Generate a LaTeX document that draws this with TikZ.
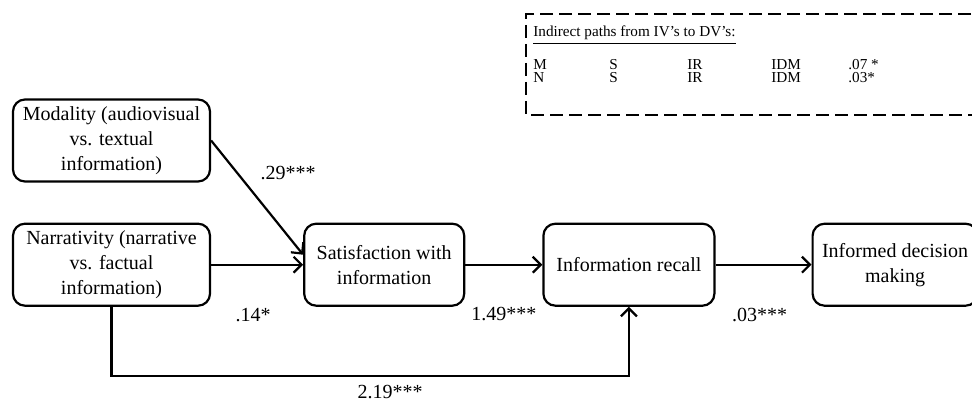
\documentclass[tikz,border=0pt]{standalone}
\usepackage{fontspec}
\setmainfont{Liberation Serif}
\usetikzlibrary{arrows.meta,positioning}

\begin{document}
\begin{tikzpicture}[
  x=0.5pt, y=-0.5pt,
  font=\fontsize{10}{12.5}\selectfont,
  factor/.style={
    draw,
    line width=1.1pt,
    rounded corners=6pt,
    minimum height=41pt,
    align=center,
    inner sep=2pt
  },
  arrow/.style={-{Straight Barb[length=4pt,width=8pt]},line width=1.1pt},
  coef/.style={inner sep=1pt},
  dashbox/.style={line width=1.1pt,dash pattern=on 6.5pt off 3pt},
  pathtext/.style={font=\fontsize{7.6}{9}\selectfont,anchor=base west,inner sep=0pt}
]
  \useasboundingbox (0,0) rectangle (972,406);

  \node[factor,minimum width=98.5pt] (modality) at (111.5,140.5)
    {Modality (audiovisual\\vs. textual\\information)};
  \node[factor,minimum width=98.5pt, below=20pt of modality] (narrativity)
    {Narrativity (narrative\\vs. factual\\information)};
  \node[factor,minimum width=80pt, right=46pt of narrativity] (satisfaction)
    {Satisfaction with\\information};
  \node[factor,minimum width=85.5pt, right=38.5pt of satisfaction] (recall)
    {Information recall};
  \node[factor,minimum width=82.5pt, right=48pt of recall] (decision)
    {Informed decision\\making};

  \draw[arrow] (modality.east) --
    node[coef,xshift=15.5pt,yshift=12.5pt]{.29***} ([yshift=5pt]satisfaction.west);
  \draw[arrow] (narrativity) --
    node[coef,xshift=-2pt,yshift=-25pt]{.14*} (satisfaction);
  \draw[arrow] (satisfaction) --
    node[coef,yshift=-24.5pt]{1.49***} (recall);
  \draw[arrow] (recall) --
    node[coef,xshift=-2pt,yshift=-25pt]{.03***} (decision);
  \draw[arrow] (narrativity.south) -- ++(0,69) -|
    node[coef,pos=0.25,xshift=10pt,yshift=-8pt]{2.19***} (recall.south);

  % indirect paths legend
  \draw[dashbox] (990,14) -| (526,115) -- (990,115);
  \node[pathtext] (header) at (533,37) {\underline{Indirect paths from IV's to DV's:}};
  \foreach \iv/\val [count=\row] in {M/.07 *, N/.03*} {
    \node[pathtext] (iv\row) at (533,57+13*\row) {\iv};
    \node[pathtext] (s\row) at (609,57+13*\row) {S};
    \node[pathtext] (ir\row) at (687,57+13*\row) {IR};
    \node[pathtext] (idm\row) at (771,57+13*\row) {IDM};
    \node[pathtext] (val\row) at (848,57+13*\row) {\val};
  }
\end{tikzpicture}
\end{document}
